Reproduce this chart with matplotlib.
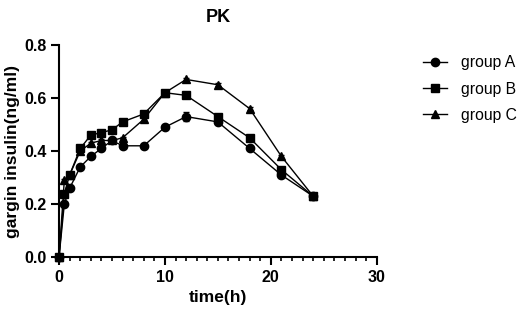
import numpy as np
import matplotlib.pyplot as plt
from matplotlib.ticker import MultipleLocator
from matplotlib.lines import Line2D

plt.rcParams['font.family'] = ['Liberation Sans', 'DejaVu Sans']

# Sampling times (h)
time_h = [0, 0.5, 1, 2, 3, 4, 5, 6, 8, 10, 12, 15, 18, 21, 24]

# Mean gargin insulin (ng/ml) per group
group_a = [0.0, 0.20, 0.26, 0.34, 0.38, 0.41, 0.44, 0.42, 0.42, 0.49, 0.53, 0.51, 0.41, 0.31, 0.23]
group_b = [0.0, 0.24, 0.31, 0.41, 0.46, 0.47, 0.48, 0.51, 0.54, 0.62, 0.61, 0.53, 0.45, 0.33, 0.23]
group_c = [0.0, 0.29, 0.31, 0.40, 0.43, 0.44, 0.44, 0.45, 0.52, 0.62, 0.67, 0.65, 0.56, 0.38, 0.23]

# Error bars (mostly hidden behind markers)
err_a = [0, 0.005, 0.005, 0.005, 0.005, 0.005, 0.005, 0.005, 0.005, 0.005, 0.018, 0.005, 0.005, 0.005, 0.005]
err_b = [0, 0.005, 0.005, 0.005, 0.005, 0.005, 0.005, 0.005, 0.005, 0.008, 0.005, 0.005, 0.005, 0.005, 0.005]
err_c = [0, 0.005, 0.005, 0.005, 0.005, 0.005, 0.005, 0.005, 0.005, 0.005, 0.005, 0.005, 0.005, 0.005, 0.005]

series = [
    ("group A", group_a, err_a, "o"),
    ("group B", group_b, err_b, "s"),
    ("group C", group_c, err_c, "^"),
]

fig = plt.figure(figsize=(5.26, 3.16), dpi=100)
ax = fig.add_axes([0.1122, 0.1858, 0.604, 0.672])

handles = []
for name, vals, err, mk in series:
    ax.errorbar(time_h, vals, yerr=err, color="black", marker=mk,
                markersize=6, linewidth=1, elinewidth=1, capsize=2.5,
                clip_on=False)
    handles.append(Line2D([], [], color="black", marker=mk, markersize=6,
                          linewidth=1, label=name))

ax.set_xlim(0, 30)
ax.set_ylim(0, 0.8)
ax.xaxis.set_major_locator(MultipleLocator(10))
ax.xaxis.set_minor_locator(MultipleLocator(1))
ax.yaxis.set_major_locator(MultipleLocator(0.2))
ax.yaxis.set_major_formatter(plt.FuncFormatter(lambda v, p: f"{v:.1f}"))

for side in ["top", "right"]:
    ax.spines[side].set_visible(False)
for side in ["left", "bottom"]:
    ax.spines[side].set_linewidth(1.5)

ax.tick_params(which="major", length=6, width=1.5, labelsize=11.5, pad=3)
ax.tick_params(which="minor", length=3, width=1.2)
for lab in ax.get_xticklabels() + ax.get_yticklabels():
    lab.set_fontweight("bold")

ax.set_xlabel("time(h)", fontsize=12.5, fontweight="bold", labelpad=4)
ax.set_ylabel("gargin insulin(ng/ml)", fontsize=12.5, fontweight="bold", labelpad=3)
fig.text(0.415, 0.945, "PK", fontsize=13, fontweight="bold", ha="center", va="center")

leg = fig.legend(handles=handles, loc="center left", bbox_to_anchor=(0.804, 0.718),
                 frameon=False, fontsize=11.3, handlelength=1.55, labelspacing=0.72,
                 handletextpad=0.85, borderpad=0, borderaxespad=0)

fig.savefig("out.png", dpi=100)
